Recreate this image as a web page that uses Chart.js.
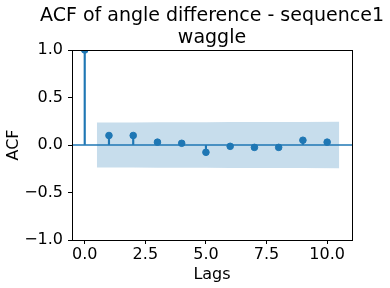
<!DOCTYPE html>
<html>
<head>
<meta charset="utf-8">
<script src="https://cdn.jsdelivr.net/npm/chart.js@4"></script>
<style>
  html, body { margin: 0; padding: 0; background: #fff; }
  #wrap { width: 390px; height: 288px; }
</style>
</head>
<body>
<div id="wrap"><canvas id="chart" width="390" height="288"></canvas></div>
<script>
// ACF values
const lags = [0, 1, 2, 3, 4, 5, 6, 7, 8, 9, 10];
const acfValues = [1.0, 0.10, 0.10, 0.03, 0.018, -0.077, -0.014, -0.025, -0.025, 0.05, 0.03];
// confidence band (drawn at lag 0.5 .. 10.5)
const bandLags = [0.5, 2, 3, 4, 5, 6, 7, 8, 9, 10.5];
const bandHalf = [0.236, 0.238, 0.24, 0.24, 0.24, 0.242, 0.242, 0.243, 0.243, 0.244];
const xTicks = [0, 2.5, 5, 7.5, 10];
const yTicks = [-1, -0.5, 0, 0.5, 1];
const titleLines = ["ACF of angle difference - sequence1", "waggle"];

const blue = "#1f77b4";
const font = "'DejaVu Sans', sans-serif";

// frame on all four sides + title centred over the plot area
const frame = {
    id: "frame",
    afterDraw(chart) {
        const { ctx, chartArea: a } = chart;
        ctx.save();
        ctx.strokeStyle = "#000";
        ctx.lineWidth = 1;
        ctx.strokeRect(Math.round(a.left) + 0.5, Math.round(a.top) + 0.5,
            Math.round(a.right - a.left), Math.round(a.bottom - a.top));
        ctx.fillStyle = "#000";
        ctx.font = "19px " + font;
        ctx.textAlign = "center";
        ctx.textBaseline = "middle";
        const cx = (a.left + a.right) / 2;
        titleLines.forEach((t, i) => ctx.fillText(t, cx, 16 + i * 22));
        ctx.restore();
    }
};

const fmt = v => v.toFixed(1).replace("-", "\u2212");

new Chart(document.getElementById("chart").getContext("2d"), {
    data: {
        datasets: [
            {
                type: "line",
                data: bandLags.map((x, i) => ({ x: x, y: bandHalf[i] })),
                borderWidth: 0,
                pointRadius: 0,
                backgroundColor: "rgba(31,119,180,0.25)",
                fill: "+1",
                order: 5
            },
            {
                type: "line",
                data: bandLags.map((x, i) => ({ x: x, y: -bandHalf[i] })),
                borderWidth: 0,
                pointRadius: 0,
                fill: false,
                order: 5
            },
            {
                type: "line",
                data: [{ x: -0.525, y: 0 }, { x: 11.025, y: 0 }],
                borderColor: blue,
                borderWidth: 1.5,
                pointRadius: 0,
                order: 3
            },
            {
                type: "bar",
                data: lags.map((x, i) => ({ x: x, y: [0, acfValues[i]] })),
                backgroundColor: blue,
                barThickness: 1.5,
                order: 2
            },
            {
                type: "scatter",
                data: lags.map((x, i) => ({ x: x, y: acfValues[i] })),
                backgroundColor: blue,
                borderColor: blue,
                pointRadius: 3.3,
                order: 1
            }
        ]
    },
    options: {
        responsive: false,
        animation: false,
        layout: { padding: { top: 50, right: 38, left: 0 } },
        plugins: {
            legend: { display: false },
            tooltip: { enabled: false },
            title: { display: false }
        },
        scales: {
            x: {
                type: "linear",
                offset: false,
                min: -0.525,
                max: 11.025,
                afterBuildTicks: s => { s.ticks = xTicks.map(v => ({ value: v })); },
                afterFit: s => { s.height = 48; },
                ticks: { color: "#000", font: { family: font, size: 16 }, padding: 1, maxRotation: 0,
                    callback: v => fmt(v) },
                grid: { offset: false, drawOnChartArea: false, color: "#000", tickLength: 4 },
                border: { color: "#000" },
                title: { display: true, text: "Lags", color: "#000",
                    font: { family: font, size: 16 }, padding: { top: 0 } }
            },
            y: {
                min: -1,
                max: 1,
                afterBuildTicks: s => { s.ticks = yTicks.map(v => ({ value: v })); },
                afterFit: s => { s.width = 72; },
                ticks: { color: "#000", font: { family: font, size: 16 }, padding: 5,
                    callback: v => fmt(v) },
                grid: { drawOnChartArea: false, color: "#000", tickLength: 4 },
                border: { color: "#000" },
                title: { display: true, text: "ACF", color: "#000",
                    font: { family: font, size: 16 }, padding: { bottom: 0 } }
            }
        }
    },
    plugins: [frame]
});
</script>
</body>
</html>
